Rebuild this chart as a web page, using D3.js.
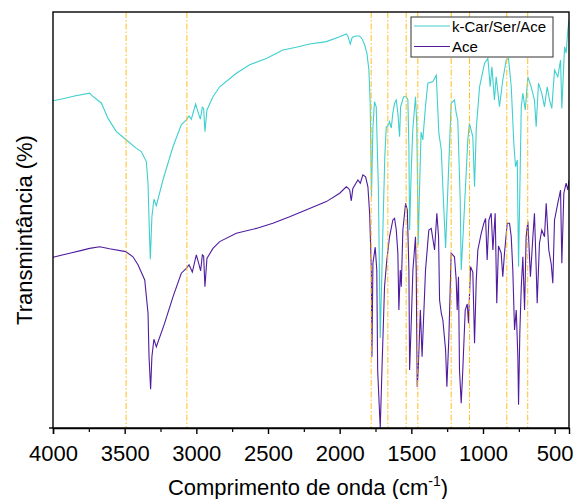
<!DOCTYPE html>
<html>
<head>
<meta charset="utf-8">
<script src="https://cdn.jsdelivr.net/npm/d3@7"></script>
<style>
    body { margin: 0; background: #fff; }
    text { font-family: Arial, "Liberation Sans", sans-serif; }
</style>
</head>
<body>
<div id="ftir"><svg></svg></div>
<script>
// k-Car/Ser/Ace spectrum (wavenumber, transmittance)
const carWavenumbers = [4000, 3930, 3850, 3744, 3732, 3662, 3616, 3558, 3488, 3418, 3384, 3349, 3337, 3330, 3321, 3310, 3296, 3279, 3233, 3163,
    3105, 3070, 3051, 3035, 3005, 2989, 2972, 2958, 2949, 2940, 2926, 2884, 2837, 2721, 2628, 2512, 2396, 2303, 2210, 2093,
    2000, 1954, 1943, 1926, 1912, 1884, 1861, 1842, 1826, 1810, 1796, 1787, 1778, 1768, 1757, 1745, 1730, 1717, 1708, 1699,
    1685, 1675, 1664, 1652, 1640, 1629, 1617, 1605, 1594, 1582, 1575, 1554, 1535, 1524, 1517, 1512, 1500, 1490, 1471, 1462,
    1452, 1444, 1432, 1420, 1401, 1385, 1350, 1326, 1308, 1291, 1280, 1261, 1245, 1222, 1199, 1187, 1176, 1159, 1152, 1136,
    1106, 1095, 1071, 1059, 1047, 1024, 989, 966, 950, 938, 920, 908, 885, 862, 838, 822, 803, 785, 773, 761,
    752, 733, 722, 705, 687, 664, 641, 629, 613, 590, 571, 552, 536, 520, 501, 478, 459, 450, 431, 420, 408, 400]
const carTransmittance = [81.8, 82.3, 83, 83.7, 83.2, 81.2, 77.4, 74.1, 72, 69.9, 69.1, 66.6, 61.2, 52, 42.2, 52.8, 57.2, 55.6, 62, 70.3,
    75.8, 77, 78, 77.2, 81, 79.1, 77.2, 80.2, 79.9, 74.1, 79.5, 82.8, 85.3, 88.7, 90.8, 92.4, 94.5, 95.2, 96, 96.6,
    97.8, 98.5, 98, 96, 97.7, 98, 98, 97.2, 95.8, 93.7, 89.5, 81.2, 57.8, 75, 81.6, 80.3, 60, 22.5, 35, 48.7,
    68, 75.3, 75.5, 76.6, 75, 78.7, 81.2, 82, 78.7, 72.8, 80.3, 82.8, 82.8, 82, 70, 49.5, 65, 74.5, 82.8, 76,
    45.8, 58, 74, 72, 80.5, 86.2, 86.6, 88.2, 73.7, 69.5, 60.2, 45, 60, 81.2, 82, 78.7, 77, 57, 39.5, 50.3,
    72, 76.2, 72.8, 60.3, 74.7, 85.3, 91.2, 92.4, 85.3, 90.3, 82, 87.8, 80.3, 87, 92, 92.4, 85.3, 71.2, 65.3, 67,
    40.3, 80.3, 83.7, 79.5, 87.8, 85.3, 82, 75.3, 86.2, 83.7, 80.3, 85.3, 82, 79.9, 89.5, 87.8, 92, 79.9, 95.3, 93.7, 99.5, 102]

// Ace spectrum (wavenumber, transmittance)
const aceWavenumbers = [4000, 3884, 3800, 3744, 3674, 3605, 3493, 3442, 3407, 3360, 3337, 3330, 3319, 3310, 3296, 3279, 3221, 3163, 3105, 3070,
    3051, 3028, 3000, 2984, 2970, 2958, 2949, 2940, 2926, 2884, 2837, 2721, 2582, 2466, 2349, 2210, 2093, 2000, 1954, 1943,
    1930, 1919, 1908, 1873, 1856, 1838, 1819, 1803, 1791, 1779, 1775, 1768, 1752, 1741, 1735, 1717, 1705, 1687, 1671, 1652,
    1629, 1617, 1605, 1594, 1587, 1577, 1570, 1559, 1540, 1528, 1517, 1512, 1500, 1489, 1471, 1466, 1459, 1452, 1437, 1425,
    1401, 1378, 1361, 1338, 1322, 1310, 1303, 1291, 1280, 1261, 1252, 1238, 1222, 1199, 1187, 1180, 1171, 1164, 1152, 1141,
    1124, 1110, 1101, 1087, 1071, 1059, 1047, 1036, 1012, 994, 982, 971, 959, 943, 931, 915, 904, 892, 873, 862,
    850, 831, 815, 803, 792, 780, 768, 757, 752, 743, 733, 722, 710, 699, 687, 669, 652, 641, 629, 622,
    606, 590, 571, 559, 541, 524, 513, 501, 478, 459, 450, 436, 420, 408, 400]
const aceTransmittance = [42.7, 43.7, 44.4, 44.9, 45.3, 44.8, 44.1, 42.8, 40.8, 37, 28.7, 17.8, 9.7, 17.8, 22.2, 20.3, 26.2, 32.8, 38.7, 39.9,
    40.8, 39, 43.3, 41.2, 39.3, 43.3, 43, 35.3, 42.4, 44.9, 46.6, 48.7, 49.9, 51.2, 52.8, 54.9, 56.6, 58.7, 60.3, 60,
    59.5, 56.8, 59.9, 62, 61.2, 63.3, 62.8, 60.3, 53.7, 39.5, 17.8, 41.2, 45.2, 39.5, 14.5, 0, 14.5, 35.3, 42, 47.8,
    52, 52.4, 49.5, 43.7, 29.5, 39.5, 35.3, 49.5, 56.2, 54.5, 39.5, 14.5, 27, 39.5, 47.8, 39.5, 10.3, 14.5, 29.5, 17.8,
    39.5, 49.5, 49.9, 44.5, 53.7, 47.8, 32, 28.7, 27, 19.5, 10.3, 22.8, 43.7, 42.8, 37, 29.5, 37.8, 14.5, 6.2, 14.5,
    29.5, 31, 26.2, 40.3, 39, 21.2, 37, 44.5, 48.7, 51.2, 52.4, 42, 52, 53.7, 44.5, 53.7, 31.2, 45.5, 43.7, 37.8,
    43.7, 51.2, 51.2, 47.8, 39.5, 24.5, 29.5, 18, 5.8, 24, 35.3, 42.8, 29.5, 47.8, 51.6, 37.8, 47.8, 53.7, 40, 31.2,
    46.2, 49.5, 47.8, 56.2, 44.5, 41, 36.2, 52, 56.2, 59.5, 41.2, 58.7, 61.2, 59.5, 62]

// dash-dot guide lines
const markerWavenumbers = [3490, 3066, 1780, 1664, 1536, 1455, 1222, 1094, 834, 688]

const xTickValues = [4000, 3500, 3000, 2500, 2000, 1500, 1000, 500]
const xMinorTickValues = [3750, 3250, 2750, 2250, 1750, 1250, 750]

const seriesNames = ["k-Car/Ser/Ace", "Ace"]
const seriesColors = ["#3fcfcf", "#4f1c9e"]

class FtirChart {
    constructor() {
        this.margins = { top: 12, right: 4, bottom: 71, left: 53 }
        this.dimensions = { width: 516, height: 416 }
        this.setUp()
    }

    setUp() {
        let svg = d3.select("#ftir").select("svg")
            .attr("width", this.margins.left + this.dimensions.width + this.margins.right)
            .attr("height", this.margins.top + this.dimensions.height + this.margins.bottom)

        let plot = svg.append("g")
            .attr("transform", "translate(" + this.margins.left + "," + this.margins.top + ")")

        this.x = d3.scaleLinear().domain([4000, 400]).range([0, this.dimensions.width])
        this.y = d3.scaleLinear().domain([0, 104]).range([this.dimensions.height, 0])

        plot.append("clipPath").attr("id", "clip")
            .append("rect")
            .attr("width", this.dimensions.width)
            .attr("height", this.dimensions.height)

        this.drawSpectra(plot)
        this.drawMarkers(plot)
        this.setUpAxes(svg, plot)
        this.drawLegend(plot)
    }

    drawSpectra(plot) {
        let line = d3.line()
            .x(d => this.x(d[0]))
            .y(d => this.y(d[1]))

        let car = d3.zip(carWavenumbers, carTransmittance)
        let ace = d3.zip(aceWavenumbers, aceTransmittance)

        let g = plot.append("g").attr("clip-path", "url(#clip)")
        g.append("path").datum(ace)
            .attr("d", line).attr("fill", "none")
            .attr("stroke", seriesColors[1]).attr("stroke-width", 1.1)
        g.append("path").datum(car)
            .attr("d", line).attr("fill", "none")
            .attr("stroke", seriesColors[0]).attr("stroke-width", 1.1)
    }

    drawMarkers(plot) {
        plot.append("g").selectAll("line")
            .data(markerWavenumbers)
            .join("line")
            .attr("x1", d => this.x(d)).attr("x2", d => this.x(d))
            .attr("y1", 0).attr("y2", this.dimensions.height)
            .attr("stroke", "#ffbf1f")
            .attr("stroke-width", 1)
            .attr("stroke-dasharray", "6,2,1.5,2")
    }

    setUpAxes(svg, plot) {
        let h = this.dimensions.height

        let xAxis = plot.append("g")
            .attr("transform", "translate(0," + h + ")")
            .call(d3.axisBottom(this.x).tickValues(xTickValues).tickFormat(d3.format("d")).tickSize(6).tickPadding(11))
        xAxis.select(".domain").attr("stroke-width", 1.4)
        xAxis.selectAll(".tick line").attr("stroke-width", 1.4)
        xAxis.selectAll("text").attr("font-size", 22).attr("fill", "#000")
            .attr("font-family", "Arial, 'Liberation Sans', sans-serif")

        plot.append("g")
            .attr("transform", "translate(0," + h + ")")
            .call(d3.axisBottom(this.x).tickValues(xMinorTickValues).tickSize(4).tickFormat(""))
            .call(g => g.select(".domain").remove())
            .selectAll("line").attr("stroke-width", 1.2)

        // frame
        plot.append("rect")
            .attr("width", this.dimensions.width).attr("height", h)
            .attr("fill", "none").attr("stroke", "#000").attr("stroke-width", 1.4)
        plot.append("line")
            .attr("x1", -4).attr("x2", 0).attr("y1", h).attr("y2", h)
            .attr("stroke", "#000").attr("stroke-width", 1.4)

        // axis titles
        let xTitle = svg.append("text")
            .attr("x", this.margins.left + this.dimensions.width / 2 - 3)
            .attr("y", 495)
            .attr("text-anchor", "middle")
            .attr("font-size", 22)
        xTitle.append("tspan").text("Comprimento de onda (cm")
        xTitle.append("tspan").attr("font-size", 14).attr("dy", -9).text("-1")
        xTitle.append("tspan").attr("dy", 9).text(")")

        svg.append("text")
            .attr("transform", "translate(32," + (this.margins.top + h / 2 + 10) + ") rotate(-90)")
            .attr("text-anchor", "middle")
            .attr("font-size", 22)
            .text("Transmintância (%)")
    }

    drawLegend(plot) {
        let legend = plot.append("g").attr("transform", "translate(358,5)")
        legend.append("rect")
            .attr("width", 142).attr("height", 40)
            .attr("fill", "#fff").attr("stroke", "#333").attr("stroke-width", 1)

        let items = legend.selectAll("g.item")
            .data(seriesNames)
            .join("g")
            .attr("transform", (d, i) => "translate(0," + (9 + i * 20.5) + ")")
        items.append("line")
            .attr("x1", 3).attr("x2", 39)
            .attr("stroke", (d, i) => seriesColors[i]).attr("stroke-width", 1.2)
        items.append("text")
            .attr("x", 41).attr("y", 5.5)
            .attr("font-size", 15)
            .text(d => d)
    }
}

new FtirChart()
</script>
</body>
</html>
